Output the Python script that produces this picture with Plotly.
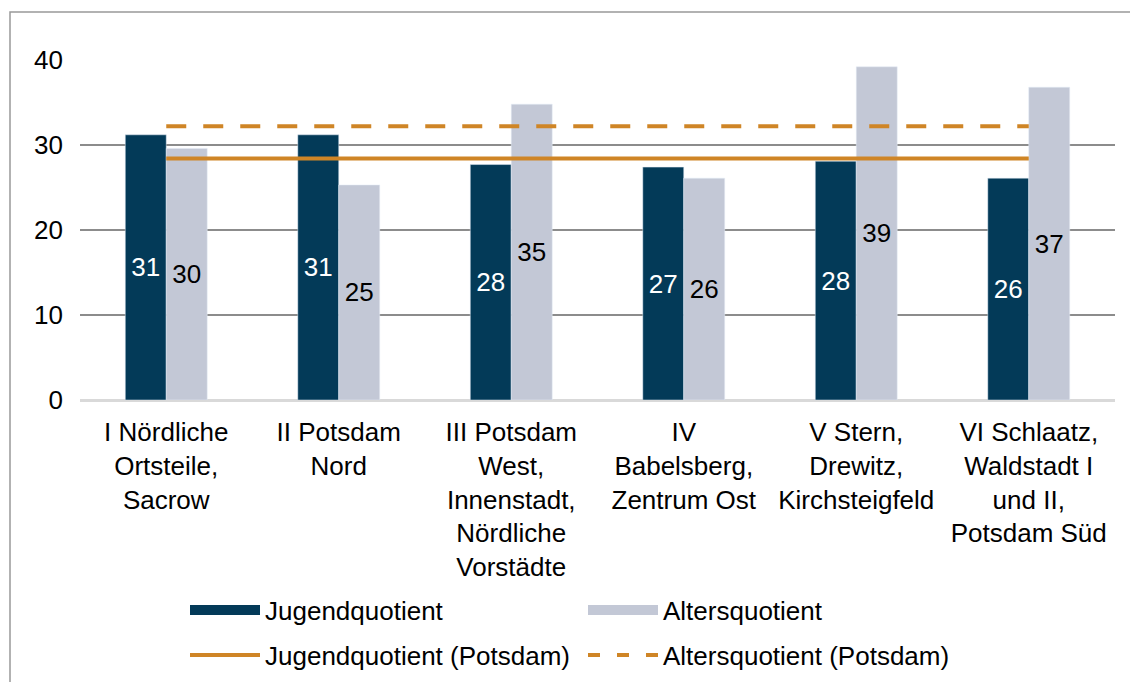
import plotly.graph_objects as go

categories = [
    "I Nördliche<br>Ortsteile,<br>Sacrow",
    "II Potsdam<br>Nord",
    "III Potsdam<br>West,<br>Innenstadt,<br>Nördliche<br>Vorstädte",
    "IV<br>Babelsberg,<br>Zentrum Ost",
    "V Stern,<br>Drewitz,<br>Kirchsteigfeld",
    "VI Schlaatz,<br>Waldstadt I<br>und II,<br>Potsdam Süd",
]
jugend = [31.2, 31.2, 27.7, 27.4, 28.1, 26.1]
alter = [29.6, 25.3, 34.8, 26.1, 39.2, 36.8]
jugend_potsdam = 28.4
alter_potsdam = 32.2
y_ticks = [0, 10, 20, 30, 40]

NAVY = "#033A58"
LIGHT = "#C3C8D6"
ORANGE = "#CF8526"
FONT = "Liberation Sans, Arial, sans-serif"
FS = 26

fig = go.Figure()
fig.add_trace(go.Bar(
    x=categories, y=jugend, marker_color=NAVY, showlegend=False,
    texttemplate="%{y:.0f}", textposition="inside", insidetextanchor="middle",
    textangle=0, textfont=dict(color="white", size=FS, family=FONT),
    constraintext="none", hoverinfo="skip",
))
fig.add_trace(go.Bar(
    x=categories, y=alter, marker_color=LIGHT, showlegend=False,
    texttemplate="%{y:.0f}", textposition="inside", insidetextanchor="middle",
    textangle=0, textfont=dict(color="black", size=FS, family=FONT),
    constraintext="none", hoverinfo="skip",
))
fig.add_trace(go.Scatter(
    x=[categories[0], categories[-1]], y=[jugend_potsdam] * 2, mode="lines",
    line=dict(color=ORANGE, width=4), showlegend=False, hoverinfo="skip",
))
fig.add_trace(go.Scatter(
    x=[categories[0], categories[-1]], y=[alter_potsdam] * 2, mode="lines",
    line=dict(color=ORANGE, width=4, dash="20px,17px"), showlegend=False, hoverinfo="skip",
))

# legend entries
fig.add_trace(go.Scatter(x=[None], y=[None], mode="lines", name="Jugendquotient",
                         line=dict(color=NAVY, width=13), legend="legend"))
fig.add_trace(go.Scatter(x=[None], y=[None], mode="lines", name="Altersquotient",
                         line=dict(color=LIGHT, width=13), legend="legend"))
fig.add_trace(go.Scatter(x=[None], y=[None], mode="lines", name="Jugendquotient (Potsdam)",
                         line=dict(color=ORANGE, width=4), legend="legend2"))
fig.add_trace(go.Scatter(x=[None], y=[None], mode="lines", name="Altersquotient (Potsdam)",
                         line=dict(color=ORANGE, width=4, dash="12px,17px"), legend="legend2"))

legend_common = dict(
    orientation="h", xref="container", yref="container", xanchor="left", yanchor="middle",
    font=dict(size=FS, family=FONT, color="black"), itemwidth=70, entrywidth=313,
    bgcolor="rgba(0,0,0,0)", borderwidth=0, itemclick=False, itemdoubleclick=False,
)

fig.update_layout(
    width=1130, height=682,
    margin=dict(l=80, r=15, t=60, b=282, autoexpand=False),
    paper_bgcolor="white", plot_bgcolor="white",
    font=dict(family=FONT, size=FS, color="black"),
    barmode="group", bargap=0.525, bargroupgap=0,
    showlegend=True,
    legend=dict(x=185 / 1130, y=1 - 610 / 682, **legend_common),
    legend2=dict(x=185 / 1130, y=1 - 655 / 682, **legend_common),
    xaxis=dict(
        type="category", showgrid=False, showline=False, ticks="",
        tickfont=dict(size=FS, family=FONT, color="black"), tickangle=0,
        ticklabelstandoff=14, fixedrange=True,
    ),
    yaxis=dict(
        range=[0, 40], tickvals=y_ticks, showgrid=True, gridcolor="#8C8C8C", gridwidth=1.5,
        zeroline=True, zerolinecolor="#D9D9D9", zerolinewidth=2.5, showline=False,
        ticks="", tickfont=dict(size=FS, family=FONT, color="black"),
        ticklabelstandoff=16, fixedrange=True,
    ),
    shapes=[dict(
        type="rect", xref="paper", yref="paper",
        x0=(10 - 80) / 1035, x1=(1140 - 80) / 1035,
        y0=(400 - 700) / 340, y1=(400 - 12) / 340,
        line=dict(color="#999999", width=1.5), fillcolor="rgba(0,0,0,0)", layer="below",
    )],
)

fig.write_html(
    "out.html",
    config={"displayModeBar": False},
    post_script="document.body.style.margin='0';document.body.style.overflow='hidden';",
)
